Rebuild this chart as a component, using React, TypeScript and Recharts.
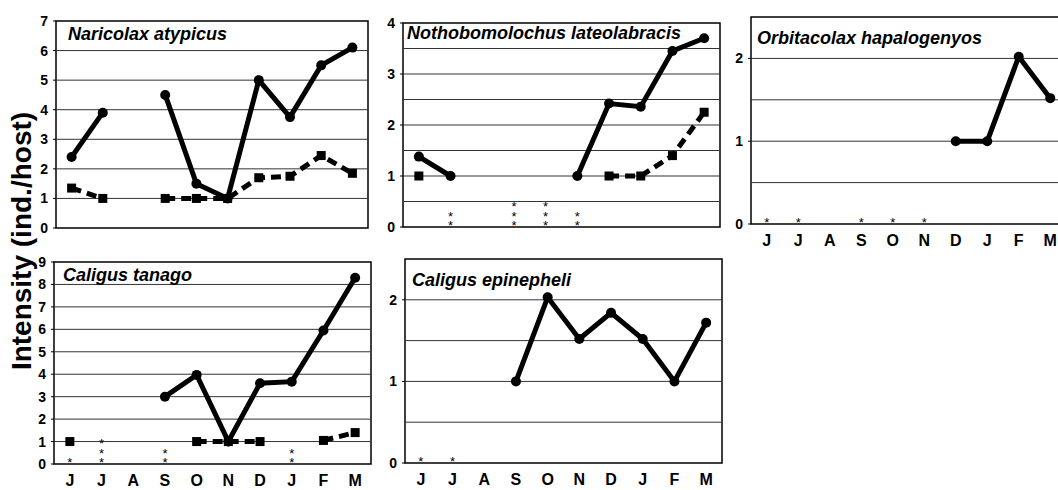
import React from "react";
import { LineChart, Line, XAxis, YAxis, ReferenceLine, ReferenceArea } from "recharts";

const months = ["J", "J", "A", "S", "O", "N", "D", "J", "F", "M"];

// Naricolax atypicus
const naricolaxSolid = [2.4, 3.9, null, 4.5, 1.5, 1.0, 5.0, 3.75, 5.5, 6.1];
const naricolaxDashed = [1.35, 1.0, null, 1.0, 1.0, 1.0, 1.7, 1.75, 2.45, 1.85];
const naricolaxStars = [0, 0, 0, 0, 0, 0, 0, 0, 0, 0];

// Nothobomolochus lateolabracis
const nothoSolid = [1.38, 1.0, null, null, null, 1.0, 2.42, 2.36, 3.45, 3.7];
const nothoDashed = [1.0, null, null, null, null, null, 1.0, 1.0, 1.4, 2.25];
const nothoStars = [0, 2, 0, 3, 3, 2, 0, 0, 0, 0];

// Orbitacolax hapalogenyos
const orbitaSolid = [null, null, null, null, null, null, 1.0, 1.0, 2.02, 1.52];
const orbitaStars = [1, 1, 0, 1, 1, 1, 0, 0, 0, 0];

// Caligus tanago
const tanagoSolid = [null, null, null, 3.0, 3.97, 1.0, 3.6, 3.67, 5.95, 8.3];
const tanagoDashed = [1.0, null, null, null, 1.0, 1.0, 1.0, null, 1.05, 1.4];
const tanagoStars = [1, 3, 0, 2, 0, 0, 0, 2, 0, 0];

// Caligus epinepheli
const epiSolid = [null, null, null, 1.0, 2.03, 1.52, 1.84, 1.52, 1.0, 1.72];
const epiStars = [1, 1, 0, 0, 0, 0, 0, 0, 0, 0];

const FONT = '"Liberation Sans", Arial, Helvetica, sans-serif';

type Num = number | null;
type Box = { x: number; y: number; w: number; h: number };

function circleDot(p: any) {
  if (p.cx == null || p.cy == null) return <g key={`c${p.index}`} />;
  return <circle key={`c${p.index}`} cx={p.cx} cy={p.cy} r={5} fill="#000" />;
}

function squareDot(p: any) {
  if (p.cx == null || p.cy == null) return <g key={`q${p.index}`} />;
  return <rect key={`q${p.index}`} x={p.cx - 4.5} y={p.cy - 4.5} width={9} height={9} fill="#000" />;
}

// stacked asterisks drawn upward from the zero line, one text element per month
function starDot(p: any) {
  const n = p.payload?.stars ?? 0;
  if (p.cx == null || p.cy == null || !n) return <g key={`s${p.index}`} />;
  return (
    <text key={`s${p.index}`} textAnchor="middle" fontSize={13} fontFamily={FONT} fill="#000">
      {Array.from({ length: n }, (_, k) => (
        <tspan key={k} x={p.cx} y={p.cy + 3 - k * 9.5}>
          *
        </tspan>
      ))}
    </text>
  );
}

function Panel(props: {
  title: string;
  titleAt: [number, number];
  box: Box;
  yMax: number;
  yTicks: number[];
  grid: number[];
  solid: Num[];
  dashed?: Num[];
  stars: number[];
  showMonths: boolean;
}) {
  const { title, titleAt, box, yMax, yTicks, grid, solid, dashed, stars, showMonths } = props;
  const YW = 30;
  const MT = 10;
  const MR = 4;
  const XH = showMonths ? 26 : 10;
  const rows = months.map((m, i) => ({
    i,
    solid: solid[i],
    dashed: dashed ? dashed[i] : null,
    stars: stars[i],
    starBase: stars[i] > 0 ? 0 : null,
  }));
  const edges = months.slice(1).map((_, k) => k + 0.5);

  return (
    <>
      <div style={{ position: "absolute", left: box.x - YW, top: box.y - MT }}>
        <LineChart
          width={YW + box.w + MR}
          height={MT + box.h + XH}
          data={rows}
          margin={{ top: MT, right: MR, bottom: showMonths ? 0 : XH, left: 0 }}
        >
          <XAxis
            type="number"
            dataKey="i"
            domain={[-0.5, 9.5]}
            ticks={months.map((_, i) => i)}
            interval={0}
            tickFormatter={(v: number) => months[v]}
            hide={!showMonths}
            height={XH}
            axisLine={false}
            tickLine={false}
            tickMargin={5}
            tick={{ fill: "#000", fontSize: 16, fontWeight: 700, fontFamily: FONT }}
          />
          <XAxis
            xAxisId="edge"
            type="number"
            dataKey="i"
            domain={[-0.5, 9.5]}
            ticks={edges}
            interval={0}
            mirror
            axisLine={false}
            tick={false}
            tickSize={4}
            tickLine={{ stroke: "#000", strokeWidth: 1 }}
          />
          <YAxis
            type="number"
            domain={[0, yMax]}
            ticks={yTicks}
            interval={0}
            width={YW}
            axisLine={false}
            tickSize={3}
            tickMargin={5}
            tickLine={{ stroke: "#000", strokeWidth: 1 }}
            tick={{ fill: "#000", fontSize: 14, fontWeight: 700, fontFamily: FONT }}
          />
          {grid.map((g) => (
            <ReferenceLine key={g} y={g} stroke="#333" strokeWidth={1} />
          ))}
          <ReferenceArea x1={-0.5} x2={9.5} y1={0} y2={yMax} fill="none" stroke="#000" strokeWidth={1.5} />
          {dashed && (
            <Line
              dataKey="dashed"
              stroke="#000"
              strokeWidth={5}
              strokeDasharray="10 6"
              dot={squareDot}
              activeDot={false}
              isAnimationActive={false}
            />
          )}
          <Line
            dataKey="solid"
            stroke="#000"
            strokeWidth={5}
            dot={circleDot}
            activeDot={false}
            isAnimationActive={false}
          />
          <Line
            dataKey="starBase"
            stroke="none"
            dot={starDot}
            activeDot={false}
            isAnimationActive={false}
          />
        </LineChart>
      </div>
      <div
        style={{
          position: "absolute",
          left: titleAt[0],
          top: titleAt[1],
          fontFamily: FONT,
          fontSize: 18,
          lineHeight: "18px",
          fontWeight: 700,
          fontStyle: "italic",
          whiteSpace: "nowrap",
          color: "#000",
        }}
      >
        {title}
      </div>
    </>
  );
}

export default function App() {
  return (
    <div
      style={{
        position: "absolute",
        left: 0,
        top: 0,
        width: 1058,
        height: 490,
        overflow: "hidden",
        background: "#fff",
      }}
    >
      <Panel
        title="Naricolax atypicus"
        titleAt={[68, 25]}
        box={{ x: 56, y: 21, w: 312, h: 207 }}
        yMax={7}
        yTicks={[0, 1, 2, 3, 4, 5, 6, 7]}
        grid={[1, 2, 3, 4, 5, 6]}
        solid={naricolaxSolid}
        dashed={naricolaxDashed}
        stars={naricolaxStars}
        showMonths={false}
      />
      <Panel
        title="Nothobomolochus lateolabracis"
        titleAt={[407, 24]}
        box={{ x: 403, y: 23, w: 317, h: 204 }}
        yMax={4}
        yTicks={[0, 1, 2, 3, 4]}
        grid={[0.5, 1, 1.5, 2, 2.5, 3, 3.5]}
        solid={nothoSolid}
        dashed={nothoDashed}
        stars={nothoStars}
        showMonths={false}
      />
      <Panel
        title="Orbitacolax hapalogenyos"
        titleAt={[757, 29]}
        box={{ x: 751, y: 17, w: 315, h: 207 }}
        yMax={2.5}
        yTicks={[0, 1, 2]}
        grid={[0.5, 1, 1.5, 2]}
        solid={orbitaSolid}
        stars={orbitaStars}
        showMonths={true}
      />
      <Panel
        title="Caligus tanago"
        titleAt={[63, 266]}
        box={{ x: 54, y: 262, w: 317, h: 202 }}
        yMax={9}
        yTicks={[0, 1, 2, 3, 4, 5, 6, 7, 8, 9]}
        grid={[1, 2, 3, 4, 5, 6, 7, 8]}
        solid={tanagoSolid}
        dashed={tanagoDashed}
        stars={tanagoStars}
        showMonths={true}
      />
      <Panel
        title="Caligus epinepheli"
        titleAt={[412, 271]}
        box={{ x: 405, y: 259, w: 317, h: 204 }}
        yMax={2.5}
        yTicks={[0, 1, 2]}
        grid={[0.5, 1, 1.5, 2]}
        solid={epiSolid}
        stars={epiStars}
        showMonths={true}
      />
      <div
        style={{
          position: "absolute",
          left: 22,
          top: 241,
          transform: "translate(-50%, -50%) rotate(-90deg)",
          whiteSpace: "nowrap",
          fontFamily: FONT,
          fontSize: 28,
          lineHeight: "28px",
          fontWeight: 700,
          color: "#000",
        }}
      >
        Intensity (ind./host)
      </div>
    </div>
  );
}
